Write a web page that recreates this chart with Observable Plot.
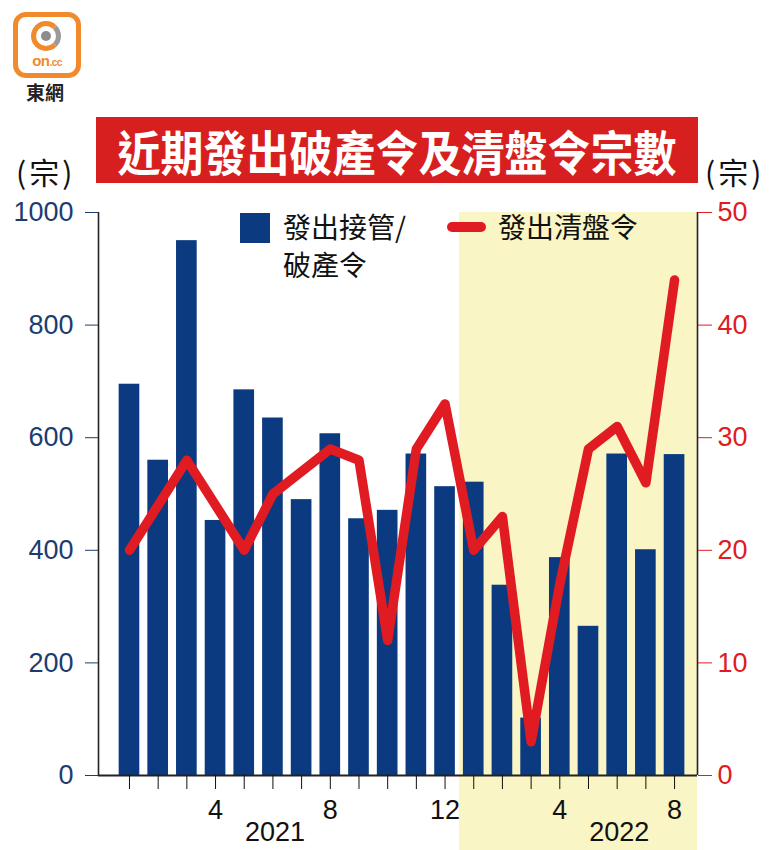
<!DOCTYPE html>
<html><head><meta charset="utf-8">
<script src="https://cdn.jsdelivr.net/npm/d3@7"></script>
<script src="https://cdn.jsdelivr.net/npm/@observablehq/plot@0.6"></script>
<style>
html,body{margin:0;padding:0;background:#fff;}
body{width:780px;height:850px;position:relative;overflow:hidden;font-family:"Liberation Sans",Arial,"Noto Sans CJK TC",sans-serif;}
.abs{position:absolute;}
#logo{left:13px;top:12px;width:58px;height:56px;border:5px solid #f08a2a;border-radius:13px;background:#fff;}
#logo .ring{position:absolute;left:13px;top:4px;width:30px;height:30px;border-radius:50%;border:5px solid #f08a2a;border-right-color:#9a9a9a;box-sizing:border-box;}
#logo .dot{position:absolute;left:23px;top:14px;width:10px;height:10px;border-radius:50%;background:#8c8c8c;}
#logo .on{position:absolute;left:0;width:58px;top:35px;text-align:center;font:bold 15px "Liberation Sans",Arial,sans-serif;color:#f08a2a;letter-spacing:-0.5px;}
#logo .on small{font-size:10px;}
#logoText{left:26px;top:78px;font:bold 19px "Noto Sans CJK TC",sans-serif;color:#222;}
#title{left:96px;top:117px;width:602px;height:66px;background:#d71f20;color:#fff;text-align:center;font:bold 43px/66px "Noto Sans CJK TC",sans-serif;}
#title span{display:inline-block;transform:scaleY(1.12);}
.unit{top:149px;font:30px "Noto Sans CJK TC",sans-serif;color:#111;letter-spacing:3px;}
.leg{font:28px/38px "Noto Sans CJK TC",sans-serif;color:#111;}
#chart{left:0;top:190px;}
</style></head><body>
<div id="logo" class="abs"><div class="ring"></div><div class="dot"></div><div class="on">on<small>.cc</small></div></div>
<div id="logoText" class="abs">東網</div>
<div id="title" class="abs"><span>近期發出破產令及清盤令宗數</span></div>
<div class="abs unit" style="left:16px;">(宗)</div>
<div class="abs unit" style="left:705px;">(宗)</div>
<div id="chart" class="abs"></div>
<div class="abs" style="left:240px;top:213px;width:30px;height:30px;background:#0b3a80;"></div>
<div class="abs leg" style="left:283px;top:207px;">發出接管/<br>破產令</div>
<div class="abs" style="left:447px;top:222px;width:39px;height:10px;border-radius:5px;background:#e01b22;"></div>
<div class="abs leg" style="left:498px;top:207px;">發出清盤令</div>
<script>
// Data (Jan 2021 – Aug 2022)
const monthNums = [1,2,3,4,5,6,7,8,9,10,11,12,1,2,3,4,5,6,7,8];
const years = [2021,2021,2021,2021,2021,2021,2021,2021,2021,2021,2021,2021,2022,2022,2022,2022,2022,2022,2022,2022];
const bankruptcyOrders = [695,560,950,453,685,635,490,607,456,471,571,513,521,338,102,387,265,571,401,570];
const windingUpOrders = [20,24,28,24,20,25,27,29,28,12,29,33,20,23,3,17,29,31,26,44];
const monthTickLabels = [4,8,12];
const yearLabels = [2021,2022];
const yearLabelMonth = 6;
const highlightYear = 2022;
const leftTicks = [0,200,400,600,800,1000];
const rightTicks = [0,10,20,30,40,50];

const RATIO = 20; // right axis (0–50) mapped onto left axis (0–1000)
const rows = bankruptcyOrders.map((v,i)=>({i, month: monthNums[i], year: years[i], bank: v, liq: windingUpOrders[i]}));
const xMin = -1.08, xMax = 19.8;
const half = 0.36;
const shadeStart = rows.find(d=>d.year===highlightYear).i - 0.5;
const yearRows = yearLabels.map(y=>({year:y, i: rows.find(d=>d.year===y && d.month===yearLabelMonth).i}));

const BLUE = "#0b3a80", RED = "#e01b22", AXISBLUE = "#1b3c70";
const chart = Plot.plot({
  width: 780, height: 660,
  marginLeft: 98, marginRight: 83, marginTop: 22, marginBottom: 75,
  style: {fontFamily: '"Liberation Sans", Arial, sans-serif', fontSize: "27px", background: "transparent", overflow: "visible"},
  x: {domain: [xMin, xMax], axis: null},
  y: {domain: [0, 1000], axis: null},
  marks: [
    Plot.rect([{}], {x1: shadeStart, x2: xMax, y1: -140, y2: 1000, fill: "#faf5c4"}),
    Plot.rectY(rows, {x1: d=>d.i-half, x2: d=>d.i+half, y1: 0, y2: "bank", fill: BLUE}),
    Plot.line(rows, {x: "i", y: d=>d.liq*RATIO, stroke: RED, strokeWidth: 9.5, strokeLinejoin: "round", strokeLinecap: "round"}),
    Plot.ruleX([xMin], {stroke: "#222", strokeWidth: 1.6}),
    Plot.ruleX([xMax], {stroke: "#222", strokeWidth: 1.6}),
    Plot.ruleY([0], {stroke: "#222", strokeWidth: 1.8}),
    Plot.axisY({anchor: "left", ticks: leftTicks, tickFormat: d=>String(d), tickSize: 13, tickPadding: 12, color: AXISBLUE, fontSize: 27, label: null}),
    Plot.axisY({anchor: "right", ticks: rightTicks.map(t=>t*RATIO), tickFormat: d=>String(d/RATIO), tickSize: 14, tickPadding: 6, color: RED, fontSize: 27, label: null}),
    Plot.axisX({ticks: rows.map(d=>d.i), tickFormat: i=>monthTickLabels.includes(monthNums[i]) ? String(monthNums[i]) : "", tickSize: 14, tickPadding: 10, color: "#111", fontSize: 27, label: null}),
    Plot.text(yearRows, {x: "i", text: d=>String(d.year), frameAnchor: "bottom", dy: 57, dx: 2, fontSize: 27, fill: "#111", lineAnchor: "middle"})
  ]
});
document.getElementById("chart").appendChild(chart);
</script>
</body></html>
